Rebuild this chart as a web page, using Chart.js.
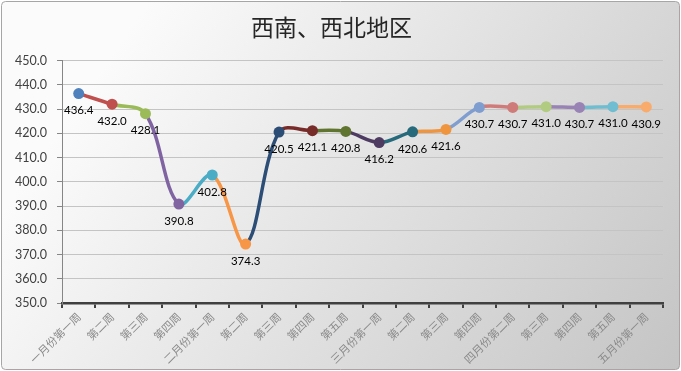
<!DOCTYPE html>
<html>
<head>
<meta charset="utf-8">
<script src="https://cdn.jsdelivr.net/npm/chart.js@4.4.1/dist/chart.umd.min.js"></script>
<style>
    html, body { margin: 0; padding: 0; background: #ffffff; }
    #wrap { width: 681px; height: 371px; }
</style>
</head>
<body>
<div id="wrap"><canvas id="weekChart"></canvas></div>
<script>
const weekLabels = [
    "一月份第一周", "第二周", "第三周", "第四周",
    "二月份第一周", "第二周", "第三周", "第四周", "第五周",
    "三月份第一周", "第二周", "第三周", "第四周",
    "四月份第二周", "第三周", "第四周", "第五周",
    "五月份第一周"
];
const weekValues = [
    436.4, 432.0, 428.1, 390.8, 402.8, 374.3, 420.5, 421.1, 420.8,
    416.2, 420.6, 421.6, 430.7, 430.7, 431.0, 430.7, 431.0, 430.9
];
const yTicks = [350, 360, 370, 380, 390, 400, 410, 420, 430, 440, 450];

// excel style "vary colours by point"
const pointColors = [
    '#4F81BD', '#C0504D', '#9BBB59', '#8064A2', '#4BACC6', '#F79646',
    '#2C4D75', '#772C2A', '#5F7530', '#4D3B62', '#276A7C', '#F0953F',
    '#7F9DCF', '#CF7B79', '#B1CB80', '#9983B5', '#6FBDD1', '#F9AB6B'
];

// gradient panel behind everything
const panelBackground = {
    id: 'panelBackground',
    beforeDraw(chart) {
        const { ctx, width, height } = chart;
        ctx.save();
        const g = ctx.createLinearGradient(150, 0, width, height);
        g.addColorStop(0, '#fbfbfb');
        g.addColorStop(1, '#c4c4c4');
        ctx.fillStyle = g;
        ctx.beginPath();
        ctx.roundRect(1.5, 1.5, width - 3, height - 3, 4);
        ctx.fill();
        ctx.strokeStyle = '#a6a6a6';
        ctx.lineWidth = 1;
        ctx.stroke();
        ctx.restore();
    }
};

// value labels under each point
const pointLabels = {
    id: 'pointLabels',
    afterDatasetsDraw(chart) {
        const { ctx } = chart;
        const meta = chart.getDatasetMeta(0);
        ctx.save();
        ctx.font = '11.5px Lato';
        ctx.fillStyle = '#000000';
        ctx.textAlign = 'center';
        ctx.textBaseline = 'middle';
        meta.data.forEach((pt, i) => {
            ctx.fillText(weekValues[i].toFixed(1), pt.x, pt.y + 17);
        });
        ctx.restore();
    }
};

new Chart(document.getElementById('weekChart'), {
    type: 'line',
    data: {
        labels: weekLabels,
        datasets: [{
            data: weekValues,
            borderWidth: 3.5,
            tension: 0.35,
            fill: false,
            pointRadius: 5.5,
            pointHoverRadius: 5.5,
            pointBorderWidth: 0,
            pointBackgroundColor: pointColors,
            pointBorderColor: pointColors,
            borderColor: pointColors[0],
            segment: {
                borderColor: c => pointColors[c.p1DataIndex]
            }
        }]
    },
    options: {
        responsive: true,
        maintainAspectRatio: false,
        animation: false,
        layout: { padding: { left: 0, right: 18, top: 0, bottom: 0 } },
        plugins: {
            legend: { display: false },
            tooltip: { enabled: false },
            title: {
                display: true,
                text: '西南、西北地区',
                color: '#262626',
                font: { family: 'Noto Sans CJK SC', size: 23, weight: 'normal' },
                padding: { top: 13, bottom: 20 }
            }
        },
        scales: {
            x: {
                offset: true,
                afterFit: s => { s.height = 68; },
                grid: {
                    offset: true,
                    drawOnChartArea: false,
                    drawTicks: true,
                    tickLength: 5,
                    color: '#404040',
                    lineWidth: 2
                },
                border: { color: '#404040', width: 2.5 },
                ticks: {
                    autoSkip: false,
                    maxRotation: 45,
                    minRotation: 45,
                    padding: 2,
                    color: '#8a8a8a',
                    font: { family: 'Noto Sans CJK SC', size: 11 }
                }
            },
            y: {
                min: 350,
                max: 450,
                afterFit: s => { s.width = 62; },
                afterBuildTicks: s => { s.ticks = yTicks.map(v => ({ value: v })); },
                grid: {
                    color: '#c4c4c4',
                    lineWidth: 1,
                    tickLength: 5,
                    tickColor: '#868686'
                },
                border: { color: '#868686', width: 1 },
                ticks: {
                    padding: 10,
                    color: '#404040',
                    font: { family: 'Lato', size: 12.5 },
                    callback: v => Number(v).toFixed(1)
                }
            }
        }
    },
    plugins: [panelBackground, pointLabels]
});
</script>
</body>
</html>
